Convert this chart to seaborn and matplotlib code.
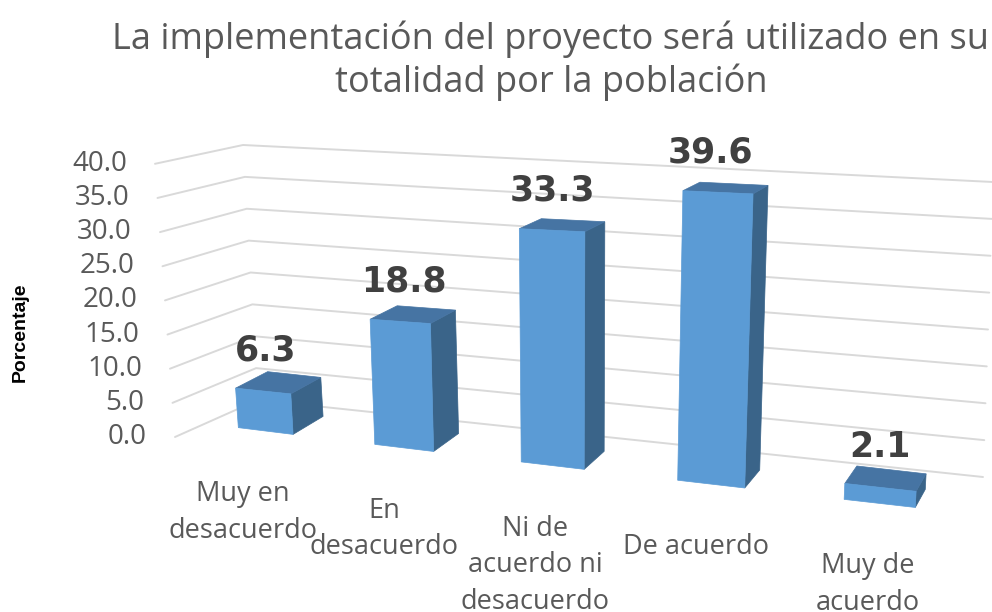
import numpy as np
import pandas as pd
import matplotlib
matplotlib.use("Agg")
import matplotlib.pyplot as plt
import matplotlib.transforms as mtransforms
from matplotlib.patches import Polygon
import seaborn as sns

categorias = ["Muy en\ndesacuerdo", "En\ndesacuerdo", "Ni de\nacuerdo ni\ndesacuerdo",
              "De acuerdo", "Muy de\nacuerdo"]
porcentajes = [6.3, 18.8, 33.3, 39.6, 2.1]
ticks_y = [0, 5, 10, 15, 20, 25, 30, 35, 40]
titulo = "La implementación del proyecto será utilizado en su\ntotalidad por la población"
etiqueta_y = "Porcentaje"

FRENTE = "#5B9BD5"
ARRIBA = "#4674A3"
LADO = "#3A6489"
GRIS = "#595959"
REJILLA = "#D9D9D9"


# proyeccion en perspectiva (u = posicion de categoria, v = valor, d = profundidad)
def proyectar(u, v, d=0.0):
    u = np.asarray(u, float)
    v = np.asarray(v, float)
    d = np.asarray(d, float)
    x = 265.5 + 133.5 * u + 5 * u ** 2 + 0.19 * (u - 2.1) * v
    y = 431 + 16.5 * u + 0.4 * u ** 2 - v * (6.35 + 0.40 * u - 0.02 * u ** 2)
    x = x + d * (31 - 5 * u)
    y = y + d * (-18 + 0.24 * v)
    return x, y


class Perspectiva(mtransforms.Transform):
    input_dims = output_dims = 2

    def __init__(self, d=0.0):
        super().__init__()
        self.d = d

    def transform_non_affine(self, values):
        values = np.asarray(values, float)
        x, y = proyectar(values[:, 0], values[:, 1], self.d)
        return np.column_stack([x, y])


# pared del fondo con la rejilla
def pared(v):
    return ([175 - 0.5 * v, 258 - 0.375 * v, 983 + 0.25 * v],
            [437 - 6.83 * v, 400 - 6.375 * v, 477 - 7.375 * v])


sns.set_theme(style="white")
plt.rcParams["font.family"] = ["Open Sans", "DejaVu Sans"]

fig = plt.figure(figsize=(9.92, 6.12), dpi=100)
lienzo = fig.add_axes([0, 0, 1, 1])
lienzo.set_xlim(0, 992)
lienzo.set_ylim(612, 0)
lienzo.set_axis_off()

ax = fig.add_axes([0, 0, 1, 1], zorder=2)
df = pd.DataFrame({"categoria": categorias, "porcentaje": porcentajes})
sns.barplot(data=df, x="categoria", y="porcentaje", color=FRENTE, saturation=1,
            width=0.41, errorbar=None, ax=ax)
ax.set_axis_off()

persp = Perspectiva() + lienzo.transData

for v in ticks_y:
    xs, ys = pared(v)
    lienzo.plot(xs, ys, color=REJILLA, lw=1.4, zorder=1)
    lienzo.text(xs[0] - 28, ys[0], f"{v:.1f}", ha="right", va="center",
                fontsize=20, color=GRIS)

for barra, valor, nombre in zip(ax.patches, porcentajes, categorias):
    barra.set_transform(persp)
    barra.set_clip_on(False)
    barra.set_edgecolor(FRENTE)
    barra.set_linewidth(0.5)
    ul = barra.get_x()
    ur = ul + barra.get_width()
    uc = ul + barra.get_width() / 2
    h = barra.get_height()

    xs, ys = proyectar([ur, ur, ur, ur], [0, h, h, 0], [0, 0, 1, 1])
    lienzo.add_patch(Polygon(np.column_stack([xs, ys]), closed=True,
                             facecolor=LADO, edgecolor=LADO, lw=0.5, zorder=3))
    xs, ys = proyectar([ul, ur, ur, ul], [h, h, h, h], [0, 0, 1, 1])
    lienzo.add_patch(Polygon(np.column_stack([xs, ys]), closed=True,
                             facecolor=ARRIBA, edgecolor=ARRIBA, lw=0.5, zorder=3))

    # etiqueta centrada sobre la base de la barra (sin la inclinacion)
    lienzo.annotate(f"{valor:.1f}", xy=(uc, h), xycoords=persp,
                    xytext=(-0.19 * (uc - 2.1) * h, 30),
                    textcoords="offset pixels", ha="center", va="baseline",
                    fontsize=25, fontweight="bold", color="#404040", zorder=4,
                    family="DejaVu Sans")
    # una linea por renglon para fijar bien el interlineado
    for j, renglon in enumerate(nombre.split("\n")):
        lienzo.annotate(renglon, xy=(uc, 0), xycoords=persp,
                        xytext=(-22.5 + 2.6 * uc, -70 - 36.5 * j),
                        textcoords="offset pixels", ha="center", va="baseline",
                        fontsize=19.5, color=GRIS, zorder=4)

for j, renglon in enumerate(titulo.split("\n")):
    lienzo.text(551, 49 + 43 * j, renglon, ha="center", va="baseline",
                fontsize=26, color=GRIS)
lienzo.text(20, 332, etiqueta_y, rotation=90, ha="center", va="center",
            fontsize=14, fontweight="bold", color="black",
            family=["Liberation Sans Narrow", "Liberation Sans", "DejaVu Sans"])

fig.savefig("out.png", dpi=100)
